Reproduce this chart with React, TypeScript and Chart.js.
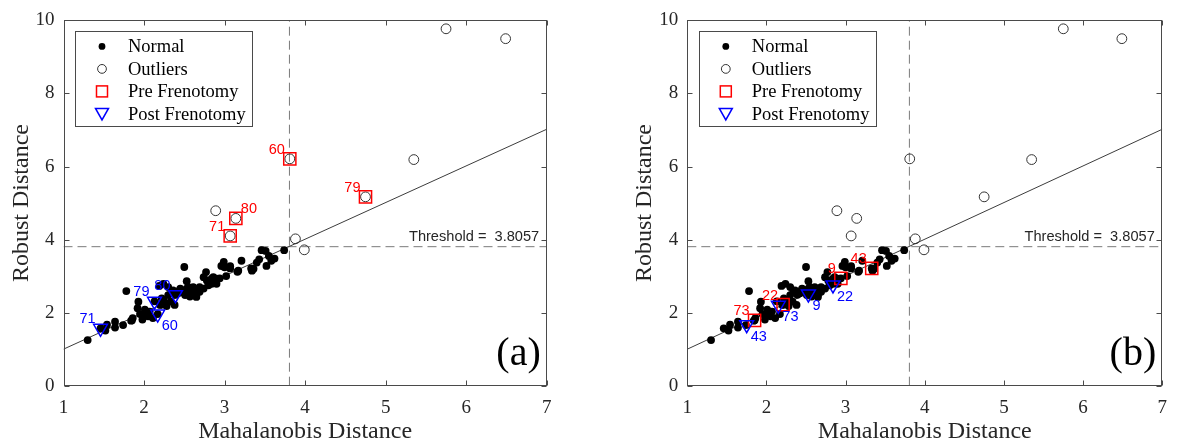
import React, { useEffect, useRef } from 'react';
import { Chart, registerables } from 'chart.js';

Chart.register(...registerables);

// ---------------- Data ----------------
const xMin = 1;
const xMax = 7;
const yMin = 0;
const yMax = 10;
const xTickValues = [1, 2, 3, 4, 5, 6, 7];
const yTickValues = [0, 2, 4, 6, 8, 10];
const threshold = 3.8057;
const thresholdLabel = 'Threshold =  3.8057';

const fitX = [1, 7];
const fitY = [1.0, 7.02];

const normalX = [
  1.30, 1.46, 1.52, 1.54, 1.64, 1.64, 1.74, 1.78, 1.84, 1.86,
  1.93, 1.92, 1.95, 1.98, 2.04, 2.07, 2.01, 2.11, 2.13, 2.17,
  2.19, 2.22, 2.26, 2.30, 2.34, 2.38, 2.39, 2.45, 2.50, 2.51,
  2.53, 2.55, 2.59, 2.63, 2.65, 2.69, 2.74, 2.77, 2.78, 2.80,
  2.84, 2.86, 2.90, 2.99, 2.98, 3.02, 3.07, 3.17, 3.21, 3.34,
  3.36, 3.40, 3.43, 3.46, 3.51, 3.52, 3.55, 3.58, 3.62, 3.74,
  1.99, 2.05, 2.20, 2.24, 2.42, 2.49, 2.61, 2.65, 2.24, 2.30,
  2.36, 2.42, 2.47, 2.53, 2.57, 2.61, 2.65, 2.69, 2.74, 2.80,
  2.84, 2.90, 2.96, 3.00, 3.07, 3.16, 2.33, 2.28, 1.85, 2.21,
  2.94, 3.33,
];
const normalY = [
  1.25, 1.57, 1.51, 1.67, 1.75, 1.59, 1.66, 2.59, 1.78, 1.85,
  2.30, 2.12, 1.96, 1.81, 1.94, 2.03, 2.08, 1.85, 2.31, 1.96,
  2.73, 2.39, 2.26, 2.48, 2.57, 2.21, 2.49, 2.66, 3.25, 2.48,
  2.86, 2.70, 2.59, 2.52, 2.48, 2.57, 2.66, 3.11, 2.88, 2.75,
  2.79, 2.97, 2.93, 3.39, 3.28, 3.00, 3.27, 3.15, 3.42, 3.15,
  3.20, 3.37, 3.46, 3.71, 3.69, 3.28, 3.55, 3.42, 3.48, 3.71,
  1.94, 1.90, 2.21, 2.35, 2.58, 2.55, 2.70, 2.43, 2.79, 2.70,
  2.61, 2.53, 2.57, 2.66, 2.44, 2.53, 2.61, 2.70, 2.97, 2.84,
  2.93, 2.79, 3.28, 3.24, 3.21, 3.12, 2.30, 2.18, 1.79, 2.22,
  2.94, 3.21,
];

const outlierX = [2.89, 3.14, 3.07, 3.81, 3.88, 3.99, 5.35, 4.75, 5.75, 6.49];
const outlierY = [4.79, 4.58, 4.10, 6.21, 4.02, 3.72, 6.19, 5.17, 9.77, 9.50];

// Panel (a)
const preAX = [3.81, 3.14, 3.07, 4.75];
const preAY = [6.21, 4.58, 4.10, 5.17];
const preALabels = ['60', '80', '71', '79'];
const postAX = [1.46, 2.13, 2.39, 2.17];
const postAY = [1.57, 2.31, 2.49, 1.96];
const postALabels = ['71', '79', '80', '60'];

// Panel (b)
const preBX = [1.85, 2.21, 2.94, 3.33];
const preBY = [1.79, 2.22, 2.94, 3.21];
const preBLabels = ['73', '22', '9', '43'];
const postBX = [1.75, 2.15, 2.53, 2.84];
const postBY = [1.67, 2.20, 2.51, 2.76];
const postBLabels = ['43', '73', '9', '22'];

// label placement styles (ul = upper-left, ur = upper-right, lr = lower-right)
const preAPlace = ['ul', 'ur', 'ul', 'ul'];
const postAPlace = ['ul', 'ul', 'ul', 'lr'];
const preBPlace = ['ul', 'ul', 'ul', 'ul'];
const postBPlace = ['lr', 'lr', 'lr', 'lr'];

// ---------------- Styles ----------------
const SERIF = "'Liberation Serif', 'Times New Roman', serif";
const SANS = "'Liberation Sans', Arial, sans-serif";
const AXIS_COLOR = '#262626';
const RED = '#ff0000';
const BLUE = '#0000ff';
const DOT_R = 3.9;
const OUT_R = 4.9;

const toPts = (xs: number[], ys: number[]) => xs.map((x, i) => ({ x, y: ys[i] }));

function drawMarker(ctx: CanvasRenderingContext2D, kind: string, x: number, y: number) {
  ctx.save();
  if (kind === 'normal') {
    ctx.fillStyle = '#000';
    ctx.beginPath();
    ctx.arc(x, y, 3.4, 0, Math.PI * 2);
    ctx.fill();
  } else if (kind === 'outlier') {
    ctx.strokeStyle = '#333';
    ctx.lineWidth = 1;
    ctx.beginPath();
    ctx.arc(x, y, 4.4, 0, Math.PI * 2);
    ctx.stroke();
  } else if (kind === 'pre') {
    ctx.strokeStyle = RED;
    ctx.lineWidth = 1.5;
    ctx.strokeRect(x - 5.5, y - 5.5, 11, 11);
  } else if (kind === 'post') {
    ctx.strokeStyle = BLUE;
    ctx.lineWidth = 1.5;
    ctx.beginPath();
    ctx.moveTo(x - 6.5, y - 5.5);
    ctx.lineTo(x + 6.5, y - 5.5);
    ctx.lineTo(x, y + 6);
    ctx.closePath();
    ctx.stroke();
  }
  ctx.restore();
}

function buildConfig(panel: 'a' | 'b', padLeft: number, padRight: number): any {
  const pre = panel === 'a'
    ? { x: preAX, y: preAY, l: preALabels, p: preAPlace }
    : { x: preBX, y: preBY, l: preBLabels, p: preBPlace };
  const post = panel === 'a'
    ? { x: postAX, y: postAY, l: postALabels, p: postAPlace }
    : { x: postBX, y: postBY, l: postBLabels, p: postBPlace };

  const decor = {
    id: 'decor' + panel,
    afterDatasetsDraw(chart: any) {
      const { ctx } = chart;
      ctx.save();
      ctx.font = `14.5px ${SANS}`;
      chart.data.datasets.forEach((ds: any, i: number) => {
        if (!ds.pointLabels) return;
        const meta = chart.getDatasetMeta(i);
        meta.data.forEach((el: any, j: number) => {
          const place = ds.labelPlace[j];
          ctx.fillStyle = ds.labelColor;
          ctx.textBaseline = 'alphabetic';
          if (place === 'ul') {
            ctx.textAlign = 'right';
            ctx.fillText(ds.pointLabels[j], el.x - 5, el.y - 5);
          } else if (place === 'ur') {
            ctx.textAlign = 'left';
            ctx.fillText(ds.pointLabels[j], el.x + 5, el.y - 5);
          } else {
            ctx.textAlign = 'left';
            ctx.fillText(ds.pointLabels[j], el.x + 4, el.y + 16);
          }
        });
      });
      ctx.restore();
    },
    afterDraw(chart: any) {
      const { ctx, chartArea: a, scales } = chart;
      const xs = scales.x;
      const ys = scales.y;
      ctx.save();
      // frame
      const L = Math.round(a.left) + 0.5;
      const R = Math.round(a.right) - 0.5;
      const T = Math.round(a.top) + 0.5;
      const B = Math.round(a.bottom) - 0.5;
      ctx.strokeStyle = '#4a4a4a';
      ctx.lineWidth = 1;
      ctx.strokeRect(L, T, R - L, B - T);
      ctx.beginPath();
      xTickValues.forEach((v) => {
        const px = Math.round(xs.getPixelForValue(v)) + 0.5;
        ctx.moveTo(px, B); ctx.lineTo(px, B - 5);
        ctx.moveTo(px, T); ctx.lineTo(px, T + 5);
      });
      yTickValues.forEach((v) => {
        const py = Math.round(ys.getPixelForValue(v)) + 0.5;
        ctx.moveTo(L, py); ctx.lineTo(L + 5, py);
        ctx.moveTo(R, py); ctx.lineTo(R - 5, py);
      });
      ctx.stroke();

      // threshold text
      ctx.fillStyle = AXIS_COLOR;
      ctx.font = `14.6px ${SANS}`;
      ctx.textAlign = 'right';
      ctx.textBaseline = 'alphabetic';
      ctx.fillText(thresholdLabel, a.right - 7.5, ys.getPixelForValue(threshold) - 5.5);

      // panel letter
      ctx.font = `40px ${SERIF}`;
      ctx.fillStyle = '#000';
      ctx.fillText(panel === 'a' ? '(a)' : '(b)', a.right - 6, a.bottom - 21);

      // legend
      const lx = a.left + 11.5;
      const ly = a.top + 11;
      const lw = 177;
      const lh = 95;
      ctx.fillStyle = '#fff';
      ctx.fillRect(lx, ly, lw, lh);
      ctx.strokeStyle = '#4a4a4a';
      ctx.lineWidth = 1;
      ctx.strokeRect(Math.round(lx) + 0.5, Math.round(ly) + 0.5, lw, lh);
      const entries = [
        { kind: 'normal', text: 'Normal' },
        { kind: 'outlier', text: 'Outliers' },
        { kind: 'pre', text: 'Pre Frenotomy' },
        { kind: 'post', text: 'Post Frenotomy' },
      ];
      ctx.font = `18.5px ${SERIF}`;
      ctx.textAlign = 'left';
      ctx.textBaseline = 'middle';
      entries.forEach((e, i) => {
        const ry = ly + 15 + i * 22.5;
        drawMarker(ctx, e.kind, lx + 27, ry);
        ctx.fillStyle = '#000';
        ctx.fillText(e.text, lx + 53, ry + 1);
      });
      ctx.restore();
    },
  };

  return {
    type: 'scatter',
    data: {
      datasets: [
        {
          label: 'fit',
          data: toPts(fitX, fitY),
          showLine: true,
          borderColor: '#3c3c3c',
          borderWidth: 1,
          pointRadius: 0,
          order: 10,
        },
        {
          label: 'vthreshold',
          data: toPts([threshold, threshold], [yMin, yMax]),
          showLine: true,
          borderColor: '#7a7a7a',
          borderWidth: 1,
          borderDash: [9, 5],
          pointRadius: 0,
          order: 11,
        },
        {
          label: 'hthreshold',
          data: toPts([xMin, xMax], [threshold, threshold]),
          showLine: true,
          borderColor: '#7a7a7a',
          borderWidth: 1,
          borderDash: [9, 5],
          pointRadius: 0,
          order: 12,
        },
        {
          label: 'Normal',
          data: toPts(normalX, normalY),
          pointStyle: 'circle',
          pointRadius: DOT_R,
          backgroundColor: '#000',
          borderColor: '#000',
          borderWidth: 0,
          order: 5,
        },
        {
          label: 'Outliers',
          data: toPts(outlierX, outlierY),
          pointStyle: 'circle',
          pointRadius: OUT_R,
          backgroundColor: 'rgba(0,0,0,0)',
          borderColor: '#333',
          borderWidth: 1,
          order: 4,
        },
        {
          label: 'Pre Frenotomy',
          data: toPts(pre.x, pre.y),
          pointStyle: 'rect',
          pointRadius: 8.6,
          backgroundColor: 'rgba(0,0,0,0)',
          borderColor: RED,
          borderWidth: 1.5,
          order: 2,
          pointLabels: pre.l,
          labelPlace: pre.p,
          labelColor: RED,
        },
        {
          label: 'Post Frenotomy',
          data: toPts(post.x, post.y),
          pointStyle: 'triangle',
          pointRotation: 180,
          pointRadius: 8,
          backgroundColor: 'rgba(0,0,0,0)',
          borderColor: BLUE,
          borderWidth: 1.5,
          order: 1,
          pointLabels: post.l,
          labelPlace: post.p,
          labelColor: BLUE,
        },
      ],
    },
    options: {
      responsive: false,
      maintainAspectRatio: false,
      animation: false,
      devicePixelRatio: 1,
      events: [],
      layout: { padding: { left: padLeft, right: padRight, top: 13.3, bottom: 0 } },
      plugins: {
        legend: { display: false },
        tooltip: { enabled: false },
        title: { display: false },
      },
      scales: {
        x: {
          type: 'linear',
          min: xMin,
          max: xMax,
          afterFit: (s: any) => { s.height = 60.3; },
          ticks: {
            stepSize: 1,
            font: { family: SERIF, size: 19 },
            color: AXIS_COLOR,
            padding: 11,
            maxRotation: 0,
          },
          grid: { display: false, drawTicks: false },
          border: { display: false },
          title: {
            display: true,
            text: 'Mahalanobis Distance',
            font: { family: SERIF, size: 24 },
            color: AXIS_COLOR,
            padding: { top: 0, bottom: 0 },
          },
        },
        y: {
          type: 'linear',
          min: yMin,
          max: yMax,
          afterFit: (s: any) => { s.width = 63.5; },
          ticks: {
            stepSize: 2,
            font: { family: SERIF, size: 19 },
            color: AXIS_COLOR,
            padding: 9,
          },
          grid: { display: false, drawTicks: false },
          border: { display: false },
          title: {
            display: true,
            text: 'Robust Distance',
            font: { family: SERIF, size: 24 },
            color: AXIS_COLOR,
            padding: { top: 7, bottom: 0 },
          },
        },
      },
    },
    plugins: [decor],
  };
}

function Panel({ panel, left, padLeft, padRight }: { panel: 'a' | 'b'; left: number; padLeft: number; padRight: number }) {
  const ref = useRef<HTMLCanvasElement | null>(null);
  useEffect(() => {
    if (!ref.current) return;
    const chart = new Chart(ref.current, buildConfig(panel, padLeft, padRight));
    return () => chart.destroy();
  }, [panel, padLeft, padRight]);
  return (
    <canvas
      ref={ref}
      width={589}
      height={446}
      style={{ position: 'absolute', left, top: 0, width: 589, height: 446, display: 'block' }}
    />
  );
}

export default function App() {
  return (
    <div style={{ position: 'fixed', left: 0, top: 0, width: 1178, height: 446, background: '#fff', overflow: 'hidden' }}>
      <Panel panel="a" left={0} padLeft={0} padRight={42.3} />
      <Panel panel="b" left={589} padLeft={34.8} padRight={8} />
    </div>
  );
}
